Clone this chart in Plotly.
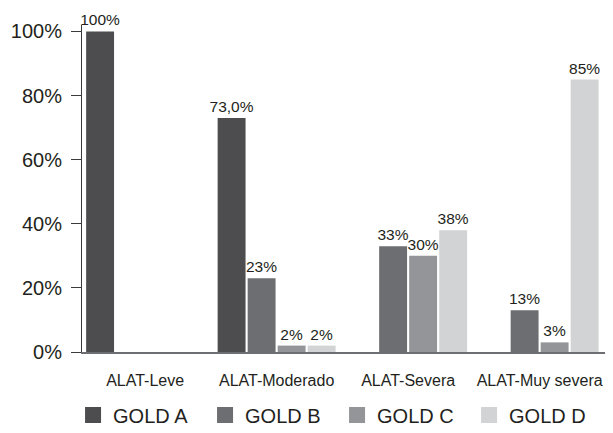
import plotly.graph_objects as go

categories = ["ALAT-Leve", "ALAT-Moderado", "ALAT-Severa", "ALAT-Muy severa"]
series_names = ["GOLD A", "GOLD B", "GOLD C", "GOLD D"]
gold_a = [100, 73.0, None, None]
gold_b = [None, 23, 33, 13]
gold_c = [None, 2, 30, 3]
gold_d = [None, 2, 38, 85]
labels_a = ["100%", "73,0%", "", ""]
labels_b = ["", "23%", "33%", "13%"]
labels_c = ["", "2%", "30%", "3%"]
labels_d = ["", "2%", "38%", "85%"]
y_ticks = [0, 20, 40, 60, 80, 100]
y_tick_text = ["0%", "20%", "40%", "60%", "80%", "100%"]

colors = ["#4d4d4f", "#6d6e71", "#939598", "#d1d3d4"]
FONT = "Liberation Sans, Arial, Helvetica, sans-serif"
TXT = "#231f20"

fig = go.Figure()
for name, vals, labs, col in zip(series_names, [gold_a, gold_b, gold_c, gold_d],
                                 [labels_a, labels_b, labels_c, labels_d], colors):
    fig.add_trace(go.Bar(
        x=categories, y=vals, name=name, text=labs,
        textposition="outside", cliponaxis=False, constraintext="none",
        textfont=dict(family=FONT, size=15.5, color=TXT),
        marker=dict(color=col, line=dict(width=0)),
        showlegend=False,
    ))
    # legend entry with larger square swatch
    fig.add_trace(go.Scatter(
        x=[None], y=[None], mode="markers", name=name,
        marker=dict(symbol="square", size=16, color=col),
        showlegend=True,
    ))

# page body has an 8px default margin, so the figure is sized/offset accordingly
fig.update_layout(
    width=605, height=425,
    margin=dict(l=74, r=5, t=17, b=81, autoexpand=False),
    paper_bgcolor="white", plot_bgcolor="white",
    barmode="group", bargap=0.087, bargroupgap=0.07,
    font=dict(family=FONT, color=TXT),
    showlegend=True,
    legend=dict(
        orientation="h", x=-0.017, xanchor="left",
        y=-0.193, yanchor="middle",
        font=dict(family=FONT, size=20, color=TXT),
        entrywidth=87, entrywidthmode="pixels",
        itemwidth=30, tracegroupgap=0,
        bgcolor="rgba(0,0,0,0)",
    ),
)
fig.update_xaxes(
    type="category", range=[-0.48, 3.52],
    showline=True, linecolor="#6d6e71", linewidth=1.5,
    ticks="", showgrid=False, zeroline=False,
    tickfont=dict(family=FONT, size=16, color=TXT),
    ticklabelstandoff=13,
)
fig.update_yaxes(
    range=[0, 102], tickvals=y_ticks, ticktext=y_tick_text,
    showline=True, linecolor="#3a3a3c", linewidth=1,
    ticks="outside", ticklen=10, tickcolor="#3a3a3c", tickwidth=1,
    showgrid=False, zeroline=False,
    tickfont=dict(family=FONT, size=20, color=TXT),
    ticklabelstandoff=5,
)

fig.write_html("out.html")
